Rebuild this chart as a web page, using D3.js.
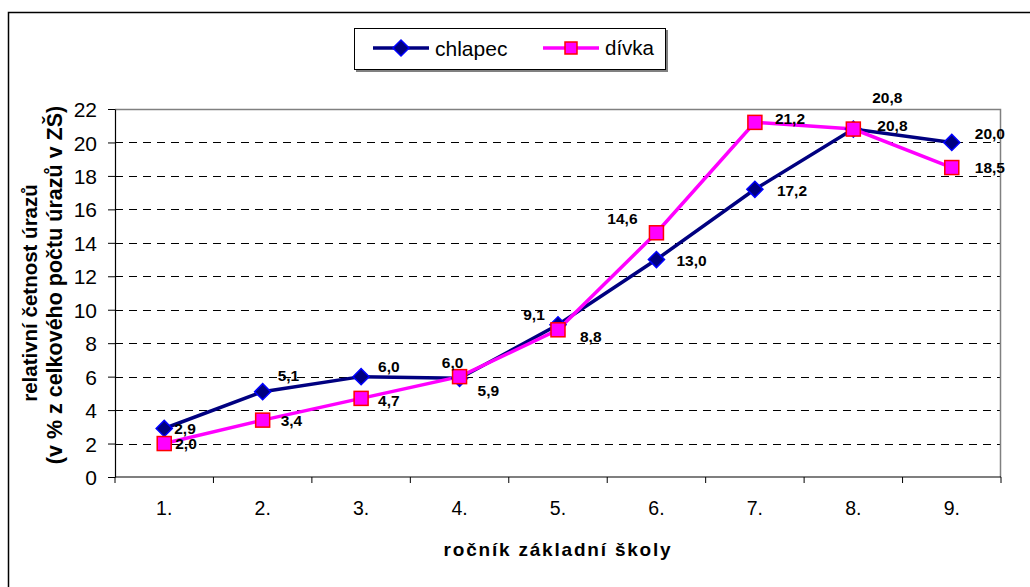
<!DOCTYPE html>
<html>
<head>
<meta charset="utf-8">
<script src="https://cdn.jsdelivr.net/npm/d3@7"></script>
<style>
  body { margin: 0; background: #fff; }
  svg { font-family: Arial, "Liberation Sans", sans-serif; }
</style>
</head>
<body>
<script>
// Data
let categories = ["1.", "2.", "3.", "4.", "5.", "6.", "7.", "8.", "9."];
let chlapec = [2.9, 5.1, 6.0, 5.9, 9.1, 13.0, 17.2, 20.8, 20.0];
let divka = [2.0, 3.4, 4.7, 6.0, 8.8, 14.6, 21.2, 20.8, 18.5];
let yTicks = [0, 2, 4, 6, 8, 10, 12, 14, 16, 18, 20, 22];

// where each value label sits relative to its marker (dx, dy, anchor)
let chlapecLabelPos = [
  [10, 0, "start"], [15, -16, "start"], [17, -10, "start"], [18, 12, "start"], [-24, -10, "middle"],
  [20, 1, "start"], [22, 1, "start"], [34, -32, "middle"], [23, -9, "start"]
];
let divkaLabelPos = [
  [11, 0, "start"], [18, 0, "start"], [17, 2, "start"], [-7, -14, "middle"], [22, 7, "start"],
  [-34, -14, "middle"], [20, -4, "start"], [24, -4, "start"], [23, 0, "start"]
];

let width = 1030;
let height = 587;

let margins = { top: 109, right: 29, bottom: 110, left: 115 };
let chart_width = width - margins.left - margins.right;
let chart_height = height - margins.top - margins.bottom;

let svg = d3.select("body")
  .append("svg")
  .attr("width", width)
  .attr("height", height);

// outer frame (only left and top edges are inside the picture)
svg.append("rect")
  .attr("x", 8.5)
  .attr("y", 12.5)
  .attr("width", width + 20)
  .attr("height", height + 20)
  .attr("fill", "none")
  .attr("stroke", "#000")
  .attr("stroke-width", 1.5);

let chart = svg.append("g")
  .attr("transform", `translate(${margins.left}, ${margins.top})`);

let x = d3.scaleBand()
  .domain(categories)
  .range([0, chart_width]);

let y = d3.scaleLinear()
  .domain([0, 22])
  .range([chart_height, 0]);

// grid lines
chart.selectAll(".grid")
  .data(yTicks.filter(d => d > 0 && d < 22))
  .enter()
  .append("line")
  .attr("x1", 0)
  .attr("x2", chart_width)
  .attr("y1", d => Math.round(y(d)) + 0.5)
  .attr("y2", d => Math.round(y(d)) + 0.5)
  .attr("stroke", "#000")
  .attr("stroke-dasharray", "8,6")
  .attr("shape-rendering", "crispEdges");

// plot area top/right border
chart.append("path")
  .attr("d", `M0,0.5H${chart_width - 0.5}V${chart_height}`)
  .attr("fill", "none")
  .attr("stroke", "#808080")
  .attr("stroke-width", 1.5);

// y axis
let yAxis = d3.axisLeft(y).tickValues(yTicks).tickSize(7).tickSizeOuter(0).tickPadding(11);
let yg = chart.append("g").call(yAxis);
yg.select(".domain").attr("stroke", "#000").attr("stroke-width", 1.2);
yg.selectAll("text").attr("font-size", 21).attr("fill", "#000").attr("dy", "0.36em");

// x axis: ticks sit between categories
let xg = chart.append("g")
  .attr("transform", `translate(0, ${chart_height})`);
xg.append("line")
  .attr("x1", 0).attr("x2", chart_width)
  .attr("stroke", "#000").attr("stroke-width", 1.2);
let bounds = categories.map(c => x(c)).concat([chart_width]);
xg.selectAll(".xtick")
  .data(bounds)
  .enter()
  .append("line")
  .attr("x1", d => d).attr("x2", d => d)
  .attr("y1", 0).attr("y2", 6)
  .attr("stroke", "#000");
xg.selectAll(".xlab")
  .data(categories)
  .enter()
  .append("text")
  .attr("x", d => x(d) + x.bandwidth() / 2)
  .attr("y", 38)
  .attr("text-anchor", "middle")
  .attr("font-size", 19.5)
  .text(d => d);

// axis titles
svg.append("text")
  .attr("x", margins.left + chart_width / 2)
  .attr("y", 556)
  .attr("text-anchor", "middle")
  .attr("font-size", 19)
  .attr("letter-spacing", 1.8)
  .attr("font-weight", "bold")
  .text("ročník základní školy");

let yTitle = svg.append("g")
  .attr("transform", `translate(0, ${margins.top + chart_height / 2}) rotate(-90)`);
yTitle.append("text")
  .attr("x", 0).attr("y", 37)
  .attr("text-anchor", "middle")
  .attr("font-size", 20.5)
  .attr("font-weight", "bold")
  .text("relativní četnost úrazů");
yTitle.append("text")
  .attr("x", 8).attr("y", 62)
  .attr("text-anchor", "middle")
  .attr("font-size", 21.5)
  .attr("font-weight", "bold")
  .text("(v % z celkového počtu úrazů v ZŠ)");

// series
let cx = (d, i) => x(categories[i]) + x.bandwidth() / 2;
let line = d3.line().x(cx).y(d => y(d));

let diamond = d3.symbol().type(d3.symbolSquare).size(130);

function drawSeries(values, color) {
  chart.append("path")
    .datum(values)
    .attr("d", line)
    .attr("fill", "none")
    .attr("stroke", color)
    .attr("stroke-width", 3.5);
}

drawSeries(chlapec, "#000080");
drawSeries(divka, "#FF00FF");

chart.selectAll(".mark-c")
  .data(chlapec)
  .enter()
  .append("path")
  .attr("d", diamond)
  .attr("transform", (d, i) => `translate(${cx(d, i)}, ${y(d)}) rotate(45)`)
  .attr("fill", "#000080")
  .attr("stroke", "#0000FF")
  .attr("stroke-width", 1.5);

chart.selectAll(".mark-d")
  .data(divka)
  .enter()
  .append("rect")
  .attr("x", (d, i) => cx(d, i) - 7)
  .attr("y", d => y(d) - 7)
  .attr("width", 14)
  .attr("height", 14)
  .attr("fill", "#FF00FF")
  .attr("stroke", "#FF0000")
  .attr("stroke-width", 1.5);

// value labels
let fmt = v => v.toFixed(1).replace(".", ",");
function drawLabels(values, pos) {
  chart.selectAll(null)
    .data(values)
    .enter()
    .append("text")
    .attr("x", (d, i) => cx(d, i) + pos[i][0])
    .attr("y", (d, i) => y(d) + pos[i][1])
    .attr("dy", "0.36em")
    .attr("text-anchor", (d, i) => pos[i][2])
    .attr("font-size", 15.5)
    .attr("font-weight", "bold")
    .text(fmt);
}
drawLabels(chlapec, chlapecLabelPos);
drawLabels(divka, divkaLabelPos);

// legend
let legend = svg.append("g").attr("transform", "translate(354, 28)");
legend.append("rect")
  .attr("x", 2).attr("y", 2)
  .attr("width", 312).attr("height", 42)
  .attr("fill", "#808080");
legend.append("rect")
  .attr("x", 0.5).attr("y", 0.5)
  .attr("width", 311).attr("height", 41)
  .attr("fill", "#fff")
  .attr("stroke", "#000");

let lg1 = legend.append("g").attr("transform", "translate(19, 20)");
lg1.append("line").attr("x1", 0).attr("x2", 56)
  .attr("stroke", "#000080").attr("stroke-width", 3.5);
lg1.append("path").attr("d", diamond)
  .attr("transform", "translate(28, 0) rotate(45)")
  .attr("fill", "#000080").attr("stroke", "#0000FF").attr("stroke-width", 1.5);
lg1.append("text").attr("x", 62).attr("y", 0).attr("dy", "0.36em")
  .attr("font-size", 21).text("chlapec");

let lg2 = legend.append("g").attr("transform", "translate(189, 20)");
lg2.append("line").attr("x1", 0).attr("x2", 56)
  .attr("stroke", "#FF00FF").attr("stroke-width", 3.5);
lg2.append("rect").attr("x", 22).attr("y", -6).attr("width", 12).attr("height", 12)
  .attr("fill", "#FF00FF").attr("stroke", "#FF0000").attr("stroke-width", 1.5);
lg2.append("text").attr("x", 62).attr("y", 0).attr("dy", "0.36em")
  .attr("font-size", 20.5).text("dívka");
</script>
</body>
</html>
